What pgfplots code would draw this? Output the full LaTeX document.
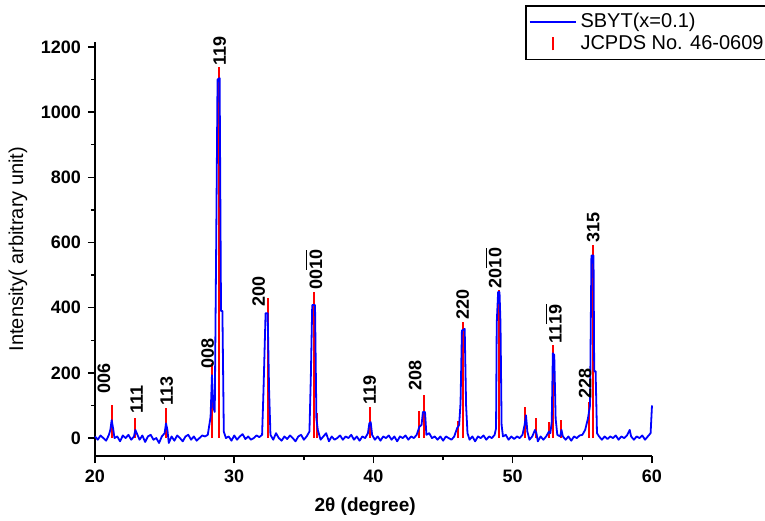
\documentclass[border=0pt]{standalone}
\usepackage{pgfplots}
\pgfplotsset{compat=1.18}
\usepackage{fontspec}
\setmainfont{Liberation Sans}
\newcommand\ovl[1]{$\overline{\hbox{#1}}$}
\begin{document}
\begin{tikzpicture}
\path[use as bounding box] (-47.5pt,-32pt) rectangle (335pt,228pt);
\begin{axis}[
 at={(0,0)}, anchor=south west, scale only axis,
 width=278.5pt, height=207pt,
 xmin=20, xmax=60, ymin=-55, ymax=1215,
 axis x line=bottom, axis y line=left,
 axis line style={-, black, line width=0.75pt},
 xtick={20,30,...,60}, ytick={0,200,...,1200},
 minor x tick num=1, minor y tick num=1,
 tick align=outside, major tick length=3.5pt, minor tick length=2pt,
 tick style={black, line width=0.75pt},
 /pgf/number format/assume math mode=true,
 /pgf/number format/1000 sep={},
 ticklabel style={font=\fontsize{9}{10}\selectfont\bfseries},
 xlabel={\bfseries 2θ (degree)},
 xlabel style={at={(axis description cs:0.485,0)}, anchor=center, yshift=-25.5pt, font=\fontsize{9.5}{11}\selectfont},
 ylabel={Intensity( arbitrary unit)},
 ylabel style={at={(axis description cs:-0.1382,0.5)}, anchor=center, font=\fontsize{10}{11}\selectfont},
 legend style={at={(axis description cs:0.772,1.089)}, anchor=north west, draw=black, line width=0.75pt,
   font=\fontsize{10}{11}\selectfont, inner sep=1.5pt, row sep=-1.5pt},
 legend cell align=left,
 reverse legend,
 clip=false,
]
\addplot[red, ycomb, line width=1pt,
  legend image code/.code={\draw[red, line width=0.9pt] (11.5pt,-3.25pt) -- (11.5pt,3.25pt);}]
 table {
21.2 101
22.9 61
25.1 92
28.4 230
28.9 1138
32.42 430
35.72 448
35.92 77
39.72 95
43.3 83
43.6 132
46.05 52
46.45 356
49.0 454
50.9 95
51.65 61
52.6 49
52.92 285
53.5 55
55.45 110
55.78 592
};
\addlegendentry{JCPDS No. 46-0609}
\addplot[blue, line width=0.9pt, line join=round,
  legend image code/.code={\draw[blue, line width=0.9pt] (0pt,0pt) -- (23pt,0pt);}]
 table {
20.0 5
20.2 -5
20.4 8
20.6 0
20.8 -8
21.0 10
21.1 25
21.2 55
21.3 30
21.4 0
21.6 5
21.8 -10
22.0 8
22.2 0
22.4 10
22.6 -5
22.8 5
22.9 25
23.0 15
23.2 -5
23.4 8
23.6 -12
23.8 5
24.0 10
24.2 -5
24.4 0
24.6 -15
24.8 5
25.0 15
25.1 45
25.2 25
25.3 -15
25.5 5
25.7 -8
25.9 8
26.1 0
26.3 -10
26.5 5
26.7 10
26.9 -5
27.1 5
27.3 -8
27.5 0
27.7 8
27.9 5
28.1 10
28.3 65
28.4 193
28.5 95
28.6 80
28.7 577
28.8 1100
28.95 1104
29.05 390
29.15 390
29.25 20
29.4 0
29.6 5
29.8 -8
30.0 8
30.2 -5
30.4 5
30.6 12
30.8 -3
31.0 5
31.2 -5
31.4 0
31.6 8
31.8 3
32.0 10
32.1 145
32.25 383
32.4 383
32.5 150
32.6 10
32.8 -5
33.0 15
33.2 0
33.4 -8
33.6 5
33.8 -3
34.0 8
34.2 0
34.4 -10
34.6 5
34.8 10
35.0 -5
35.2 5
35.4 20
35.5 187
35.6 408
35.8 408
35.9 60
36.0 25
36.2 -5
36.4 5
36.6 15
36.8 -10
37.0 5
37.2 -5
37.4 0
37.6 8
37.8 -5
38.0 5
38.2 0
38.4 10
38.6 -5
38.8 5
39.0 -8
39.2 5
39.4 0
39.6 15
39.7 45
39.8 49
39.9 10
40.1 -5
40.3 5
40.5 -8
40.7 5
40.9 0
41.1 8
41.3 -5
41.5 5
41.7 -10
41.9 5
42.1 0
42.3 8
42.5 -5
42.7 5
42.9 0
43.1 10
43.3 35
43.45 40
43.55 80
43.7 80
43.8 10
44.0 15
44.2 0
44.4 5
44.6 -5
44.8 5
45.0 -8
45.2 5
45.4 0
45.6 -5
45.8 5
46.0 30
46.15 40
46.25 107
46.35 330
46.55 335
46.65 100
46.75 15
46.9 -5
47.1 5
47.3 -10
47.5 5
47.7 0
47.9 8
48.1 -5
48.3 5
48.5 0
48.7 10
48.8 30
48.85 352
48.95 448
49.05 448
49.12 352
49.2 40
49.3 5
49.5 10
49.7 -5
49.9 5
50.1 -3
50.3 5
50.5 0
50.7 10
50.85 40
50.95 70
51.05 20
51.2 -5
51.4 5
51.6 25
51.7 15
51.8 -10
52.0 5
52.2 -5
52.4 5
52.6 20
52.7 15
52.8 50
52.88 260
52.98 255
53.08 60
53.2 10
53.4 5
53.5 25
53.6 5
53.8 -5
54.0 5
54.2 -8
54.4 5
54.6 0
54.8 8
55.0 10
55.2 25
55.4 60
55.55 100
55.65 560
55.8 560
55.85 205
55.95 205
56.05 15
56.2 5
56.4 -5
56.6 5
56.8 -3
57.0 5
57.2 0
57.4 8
57.6 -5
57.8 5
58.0 0
58.2 8
58.4 25
58.5 5
58.7 -5
58.9 5
59.1 0
59.3 8
59.5 -5
59.7 5
59.9 15
60.0 100
};
\addlegendentry{SBYT(x=0.1)}
\begin{scope}[every node/.style={rotate=90, anchor=west, inner sep=0.5pt, font=\fontsize{9}{10}\selectfont\bfseries}]
\node at (axis cs:20.65,132) {006};
\node at (axis cs:23.0,70) {111};
\node at (axis cs:25.15,95) {113};
\node at (axis cs:28.1,208) {008};
\node at (axis cs:28.95,1140) {119};
\node at (axis cs:31.75,399) {200};
\node at (axis cs:35.72,450) {00\ovl{10}};
\node at (axis cs:39.72,98) {119};
\node at (axis cs:43.0,141) {208};
\node at (axis cs:46.4,358) {220};
\node at (axis cs:48.6,456) {20\ovl{10}};
\node at (axis cs:52.92,287) {11\ovl{19}};
\node at (axis cs:55.2,117) {228};
\node at (axis cs:55.78,595) {315};
\end{scope}
\end{axis}
\end{tikzpicture}
\end{document}
